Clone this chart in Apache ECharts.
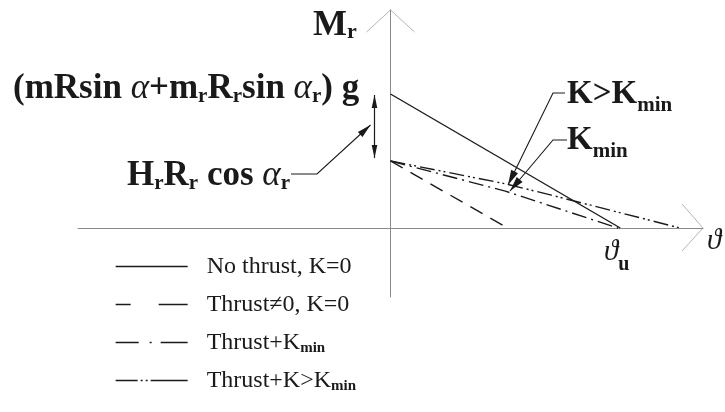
<!DOCTYPE html>
<html>
<head>
<meta charset="utf-8">
<script src="https://cdn.jsdelivr.net/npm/echarts@6/dist/echarts.min.js"></script>
<style>
  html, body { margin: 0; padding: 0; background: #ffffff; }
  #chart { width: 725px; height: 412px; }
</style>
</head>
<body>
<div id="chart"></div>
<script>
// Restoring moment M_r against rotation angle ϑ (normalised units: ϑ_u = 1)
const seriesNames = ['No thrust, K=0', 'Thrust\u22600, K=0', 'Thrust+K_min', 'Thrust+K>K_min'];
const noThrust   = [[0, 1.0], [1.0, 0]];
const thrustK0   = [[0, 0.5], [0.51, 0]];
const thrustKmin = [[0, 0.5], [0.5, 0.275], [0.99, 0]];
const thrustKgt  = [[0, 0.5], [0.5, 0.33], [0.7, 0.245], [1.26, 0]];
const curves = [noThrust, thrustK0, thrustKmin, thrustKgt];

// line styles per curve, and the shorter key samples used in the legend
const dashTypes = ['solid', [14, 9], [15, 5, 2, 5], [15, 4, 2, 3, 2, 4]];
const legendDash = ['solid', [15, 28, 30, 10], [23, 11, 2, 9, 30, 10], [22, 3, 2, 3, 2, 3, 42, 10]];

const SERIF = '"Liberation Serif", "DejaVu Serif", serif';
const INK = '#1a1a1a';
const AXIS = '#8a8a8a';

const chart = echarts.init(document.getElementById('chart'), null, { renderer: 'canvas' });

// every legend entry carries a subscript slot so all rows share one height
function legendLabel(name) {
  const m = name.match(/^(.*)_(\w+)$/);
  return m ? '{t|' + m[1] + '}{s|' + m[2] + '}' : '{t|' + name + '}{s| }';
}

chart.setOption({
  animation: false,
  backgroundColor: '#ffffff',
  grid: { left: 78, right: 22, top: 10, bottom: 115, containLabel: false },
  xAxis: {
    type: 'value', min: -1.36, max: 1.36,
    axisLine: { show: true, onZero: true, lineStyle: { color: AXIS, width: 1 } },
    axisTick: { show: false }, axisLabel: { show: false }, splitLine: { show: false }
  },
  yAxis: {
    type: 'value', min: -0.515, max: 1.627,
    axisLine: { show: true, onZero: true, lineStyle: { color: AXIS, width: 1 } },
    axisTick: { show: false }, axisLabel: { show: false }, splitLine: { show: false }
  },
  legend: {
    orient: 'vertical', left: 115, top: 253, padding: 0,
    itemWidth: 72, itemHeight: 14, itemGap: 11,
    selectedMode: false,
    data: seriesNames.map((name, i) => ({ name: name, lineStyle: { type: legendDash[i] } })),
    formatter: legendLabel,
    itemStyle: { opacity: 0 },
    lineStyle: { width: 1.3 },
    textStyle: {
      color: INK, fontFamily: SERIF, fontSize: 24, padding: [0, 0, 0, 14],
      rich: {
        t: { fontFamily: SERIF, fontSize: 24, lineHeight: 29, color: INK },
        s: { fontFamily: SERIF, fontSize: 15, fontWeight: 'bold', lineHeight: 29, color: INK, padding: [12, 0, 0, 0] }
      }
    }
  },
  series: seriesNames.map((name, i) => ({
    name: name,
    type: 'line',
    data: curves[i],
    symbol: 'none',
    silent: true,
    lineStyle: { color: INK, width: 1.4, type: dashTypes[i] }
  }))
});

// ---- annotations ----
const px = (x, y) => chart.convertToPixel({ gridIndex: 0 }, [x, y]);

function arrowHead(tip, from, len, half) {
  const dx = tip[0] - from[0], dy = tip[1] - from[1];
  const d = Math.hypot(dx, dy) || 1;
  const ux = dx / d, uy = dy / d;
  const bx = tip[0] - ux * len, by = tip[1] - uy * len;
  return {
    type: 'polygon', silent: true,
    shape: { points: [tip, [bx - uy * half, by + ux * half], [bx + uy * half, by - ux * half]] },
    style: { fill: INK }
  };
}
function poly(points, color, width) {
  return { type: 'polyline', silent: true, shape: { points: points },
           style: { stroke: color, lineWidth: width, fill: null } };
}
const mainRich = {
  b: { fontFamily: SERIF, fontSize: 35, fontWeight: 'bold', fill: INK, lineHeight: 46 },
  a: { fontFamily: SERIF, fontSize: 35, fontStyle: 'italic', fill: INK, lineHeight: 46 },
  s: { fontFamily: SERIF, fontSize: 21, fontWeight: 'bold', fill: INK, lineHeight: 46, padding: [16, 0, 0, 0] },
  k: { fontFamily: SERIF, fontSize: 33, fontWeight: 'bold', fill: INK, lineHeight: 46 },
  m: { fontFamily: SERIF, fontSize: 21, fontWeight: 'bold', fill: INK, lineHeight: 46, padding: [24, 0, 0, 0] },
  M: { fontFamily: SERIF, fontSize: 36, fontWeight: 'bold', fill: INK, lineHeight: 46 },
  r: { fontFamily: SERIF, fontSize: 22, fontWeight: 'bold', fill: INK, lineHeight: 46, padding: [13, 0, 0, 0] },
  th: { fontFamily: SERIF, fontSize: 29, fontStyle: 'italic', fill: INK, lineHeight: 46 },
  u: { fontFamily: SERIF, fontSize: 20, fontWeight: 'bold', fill: INK, lineHeight: 46, padding: [25, 0, 0, 0] }
};
function label(text, x, y) {
  return { type: 'text', silent: true, x: x, y: y,
           style: { text: text, align: 'left', verticalAlign: 'middle', rich: mainRich } };
}

const o = px(0, 0);
const xEnd = px(1.36, 0);
const yTop = px(0, 1.627);
const topSolid = px(0, noThrust[0][1]);
const topThrust = px(0, thrustK0[0][1]);

const gfx = [];
// open chevrons at the axis ends
gfx.push(poly([[xEnd[0] - 21, xEnd[1] - 24], xEnd, [xEnd[0] - 21, xEnd[1] + 23]], '#b5b5b5', 1));
gfx.push(poly([[yTop[0] - 24, yTop[1] + 22], yTop, [yTop[0] + 24, yTop[1] + 22]], '#b5b5b5', 1));

// double arrow between the two starting moments
const dax = o[0] - 16;
const daTop = [dax, topSolid[1] + 1], daBot = [dax, topThrust[1] - 3];
gfx.push(poly([daTop, daBot], INK, 1.2));
gfx.push(arrowHead(daTop, daBot, 13, 2.8));
gfx.push(arrowHead(daBot, daTop, 13, 2.8));

// leader for H_r R_r cos α_r
const hTip = [o[0] - 20, 125];
gfx.push(poly([[291, 174], [317, 174], hTip], INK, 1.1));
gfx.push(arrowHead(hTip, [317, 174], 14, 3.4));

// leaders for K>K_min and K_min
const kgtTip = [508, 185], kminTip = [510, 191];
gfx.push(poly([[565, 93], [553, 93], kgtTip], INK, 1.1));
gfx.push(arrowHead(kgtTip, [553, 93], 15, 3.8));
gfx.push(poly([[567, 140], [553, 140], kminTip], INK, 1.1));
gfx.push(arrowHead(kminTip, [553, 140], 15, 3.8));

// text labels
gfx.push(label('{M|M}{r|r}', 313, 26));
gfx.push(label('{b|(mRsin }{a|\u03b1}{b|+m}{s|r}{b|R}{s|r}{b|sin }{a|\u03b1}{s|r}{b|) g}', 13, 89));
gfx.push(label('{b|H}{s|r}{b|R}{s|r}{b| cos }{a|\u03b1}{s|r}', 127, 176));
gfx.push(label('{k|K>K}{m|min}', 567, 94));
gfx.push(label('{k|K}{m|min}', 567, 140));
gfx.push(label('{th|\u03d1}{u|u}', 604, 252));
gfx.push(label('{th|\u03d1}', 707, 241));

chart.setOption({ graphic: gfx });
</script>
</body>
</html>
